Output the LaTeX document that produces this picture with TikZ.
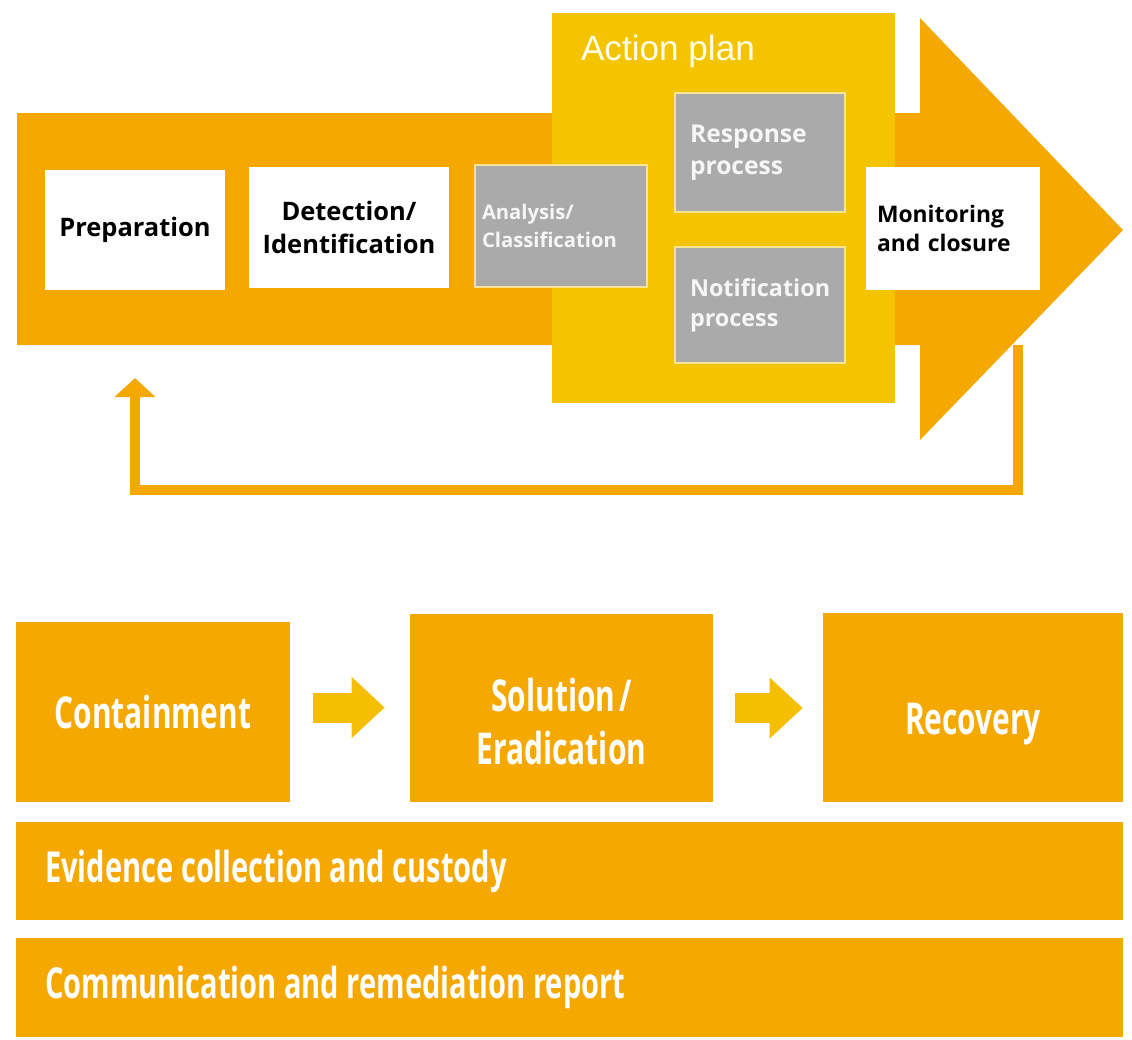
\documentclass[tikz,border=0pt]{standalone}
\usepackage{fontspec}
\setmainfont{Open Sans}
\newfontfamily\condfont[FakeStretch=0.68,WordSpace=0.5]{Open Sans}
\newfontfamily\planfont{Liberation Sans}
\usepackage{tikz}
\usetikzlibrary{arrows.meta,positioning,calc}
\usepackage{xcolor}
\definecolor{shaftorange}{RGB}{245,168,0}
\definecolor{planyellow}{RGB}{245,196,0}
\definecolor{boxgray}{RGB}{170,170,170}
\definecolor{stepyellow}{RGB}{245,190,0}
\definecolor{edgepale}{RGB}{250,228,150}

\begin{document}
\begin{tikzpicture}[x=0.02cm, y=-0.02cm,
    whitebox/.style={fill=white, inner sep=0pt, align=center, font=\bfseries\fontsize{14.5}{18.5}\selectfont},
    graybox/.style={fill=boxgray, draw=edgepale, line width=0.8pt, text=white!93!gray, align=left, inner ysep=0pt, font=\bfseries\fontsize{14}{18.5}\selectfont},
    phasebox/.style={fill=shaftorange, inner sep=0pt, text=white, align=center, font=\condfont\bfseries\fontsize{25}{30}\selectfont},
    barbox/.style={fill=shaftorange, text=white, align=left, inner xsep=0.58cm, inner ysep=0pt, text width=20.98cm, font=\condfont\bfseries\fontsize{24.3}{28}\selectfont, execute at begin node={\spaceskip=0.18em\relax}},
    steparrow/.style={-{Triangle[width=1.18cm,length=0.66cm]}, line width=0.6cm, stepyellow},
    feedback/.style={-{Triangle[width=0.8cm,length=0.38cm]}, line width=0.19cm, shaftorange}
  ]
  \useasboundingbox (0,0) rectangle (1132,1039);

  % Big process arrow
  \fill[shaftorange] (17,113) -- (920,113) -- (920,18) -- (1123,230) -- (920,440) -- (920,345) -- (17,345) -- cycle;

  % Action plan area
  \node[fill=planyellow, minimum width=6.86cm, minimum height=7.8cm] (plan) at (723.5,208) {};
  \node[anchor=west, inner sep=0pt, text=white!92!yellow, font=\planfont\fontsize{20}{22}\selectfont] (plantitle) at ([xshift=0.58cm,yshift=-0.78cm]plan.north west) {Action plan};

  % Phases on the arrow
  \node[whitebox, minimum width=3.6cm, minimum height=2.4cm] (prep) at (135,230) {Preparation};
  \node[whitebox, minimum width=4cm, minimum height=2.42cm] (detect) at (349,227.5) {Detection/\\Identification};
  \node[graybox, text width=3.16cm, inner xsep=0.14cm, minimum height=2.44cm, font=\bfseries\fontsize{11.5}{16}\selectfont] (analysis) at (561,226) {Analysis/\\Classification};
  \node[graybox, text width=2.8cm, inner xsep=0.3cm, minimum height=2.38cm] (response) at (760,152.5) {Response\\process};
  \node[graybox, text width=2.8cm, inner xsep=0.3cm, minimum height=2.32cm, font=\bfseries\fontsize{13.3}{17}\selectfont] (notify) at (760,305) {Notification\\process};
  \node[whitebox, align=left, text width=3.04cm, inner xsep=0.22cm, minimum height=2.46cm, font=\bfseries\fontsize{13}{16.5}\selectfont] (monitor) at (953,228.5) {Monitoring\\and closure};

  % Loop back to preparation
  \coordinate (fbout) at (1018,345);
  \coordinate (fbin) at (135,378);
  \draw[feedback] (fbout) -- ++(0,145) -| (fbin);

  % Response steps
  \node[phasebox, minimum width=5.48cm, minimum height=3.6cm] (contain) at (153,712) {Containment};
  \node[phasebox, minimum width=6.06cm, minimum height=3.76cm, text height=2.24cm, text depth=0cm] (solution) at (561.5,708) {Solution /\\Eradication};
  \node[phasebox, minimum width=6cm, minimum height=3.78cm, text height=1.06cm, text depth=0cm] (recovery) at (973,707.5) {Recovery};

  \draw[steparrow, shorten <=0.46cm, shorten >=0.5cm] ([yshift=0.09cm]contain.east) -- ([yshift=0.09cm]contain.east -| solution.west);
  \draw[steparrow, shorten <=0.44cm, shorten >=0.4cm] (solution.east) -- (solution.east -| recovery.west);

  % Ongoing tasks
  \node[barbox, minimum height=1.96cm] (evidence) at (569.5,871) {Evidence collection and custody};
  \node[barbox, minimum height=1.98cm] (report) at (569.5,987.5) {Communication and remediation report};
\end{tikzpicture}
\end{document}
